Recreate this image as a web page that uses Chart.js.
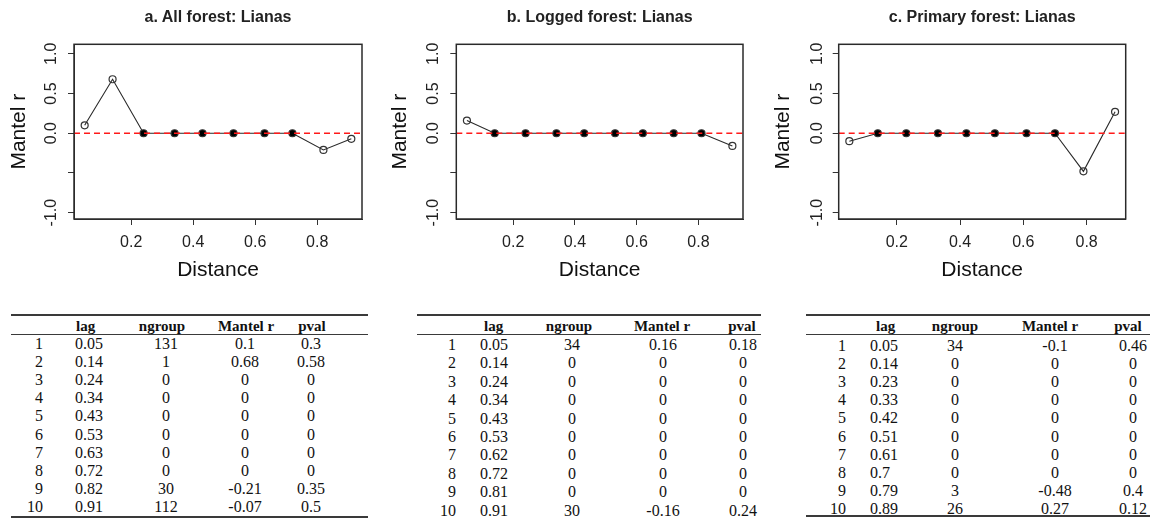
<!DOCTYPE html>
<html>
<head>
<meta charset="utf-8">
<script src="https://cdn.jsdelivr.net/npm/chart.js@4/dist/chart.umd.min.js"></script>
<style>
  body { margin: 0; width: 1152px; height: 519px; background: #fff; position: relative; overflow: hidden;
         font-family: "Liberation Sans", Arial, sans-serif; }
  canvas.plot { position: absolute; top: 0; }
  .title { position: absolute; top: 8px; font-weight: bold; font-size: 16px; line-height: 18px; color: #222;
           white-space: nowrap; transform: translateX(-50%); }
  .rule { position: absolute; background: #3a3a3a; }
  .cell { position: absolute; white-space: nowrap; font-family: "Liberation Serif", "Times New Roman", serif;
          font-size: 16px; line-height: 18px; height: 18px; color: #111; }
  .cell.h { font-weight: bold; font-size: 15px; }
</style>
</head>
<body>
<canvas class="plot" id="plotA" width="384" height="290" style="left:0px"></canvas>
<canvas class="plot" id="plotB" width="384" height="290" style="left:384px"></canvas>
<canvas class="plot" id="plotC" width="384" height="290" style="left:768px"></canvas>

<script>
/* Mantel correlograms, lianas */
const panelTitles = ['a. All forest: Lianas', 'b. Logged forest: Lianas', 'c. Primary forest: Lianas'];

const lagA    = [0.05, 0.14, 0.24, 0.34, 0.43, 0.53, 0.63, 0.72, 0.82, 0.91];
const ngroupA = [131, 1, 0, 0, 0, 0, 0, 0, 30, 112];
const mantelA = [0.1, 0.68, 0, 0, 0, 0, 0, 0, -0.21, -0.07];
const pvalA   = [0.3, 0.58, 0, 0, 0, 0, 0, 0, 0.35, 0.5];

const lagB    = [0.05, 0.14, 0.24, 0.34, 0.43, 0.53, 0.62, 0.72, 0.81, 0.91];
const ngroupB = [34, 0, 0, 0, 0, 0, 0, 0, 0, 30];
const mantelB = [0.16, 0, 0, 0, 0, 0, 0, 0, 0, -0.16];
const pvalB   = [0.18, 0, 0, 0, 0, 0, 0, 0, 0, 0.24];

const lagC    = [0.05, 0.14, 0.23, 0.33, 0.42, 0.51, 0.61, 0.7, 0.79, 0.89];
const ngroupC = [34, 0, 0, 0, 0, 0, 0, 0, 3, 26];
const mantelC = [-0.1, 0, 0, 0, 0, 0, 0, 0, -0.48, 0.27];
const pvalC   = [0.46, 0, 0, 0, 0, 0, 0, 0, 0.4, 0.12];

const xTicks = [0.2, 0.4, 0.6, 0.8];
const yTicks = [-1, -0.5, 0, 0.5, 1];
const yTickLabels = ['-1.0', '', '0.0', '0.5', '1.0'];
const tableHeaders = ['lag', 'ngroup', 'Mantel r', 'pval'];

const SANS = '"Liberation Sans", Arial, sans-serif';

// box, zero line and rotated y labels (R style)
const rStyle = {
  id: 'rStyle',
  afterDatasetsDraw(chart, args, opts) {
    const ctx = chart.ctx, a = chart.chartArea;
    const y0 = chart.scales.y.getPixelForValue(0);
    ctx.save();
    ctx.strokeStyle = '#ff1a1a';
    ctx.lineWidth = 1.6;
    ctx.setLineDash([6, 4]);
    ctx.beginPath();
    ctx.moveTo(a.left, y0);
    ctx.lineTo(a.right, y0);
    ctx.stroke();
    ctx.restore();
  },
  afterDraw(chart, args, opts) {
    const ctx = chart.ctx, a = chart.chartArea, ys = chart.scales.y;
    ctx.save();
    ctx.strokeStyle = '#2a2a2a';
    ctx.lineWidth = 1.5;
    ctx.strokeRect(a.left, a.top, a.right - a.left, a.bottom - a.top);
    ctx.fillStyle = '#222';
    ctx.font = '16px ' + SANS;
    ctx.textAlign = 'center';
    ctx.textBaseline = 'middle';
    yTicks.forEach((v, i) => {
      if (!yTickLabels[i]) return;
      ctx.save();
      ctx.translate(opts.labelX, ys.getPixelForValue(v));
      ctx.rotate(-Math.PI / 2);
      ctx.fillText(yTickLabels[i], 0, 0);
      ctx.restore();
    });
    ctx.restore();
  }
};

const panels = [
  { id: 'plotA', yw: 74,   pr: 22,   labelX: 51.5, ytPad: 6.9, lag: lagA, mantel: mantelA, pval: pvalA },
  { id: 'plotB', yw: 72.3, pr: 25,   labelX: 50,   ytPad: 4.1, lag: lagB, mantel: mantelB, pval: pvalB },
  { id: 'plotC', yw: 70.7, pr: 26.3, labelX: 49.5, ytPad: 2.9, lag: lagC, mantel: mantelC, pval: pvalC }
];

panels.forEach(p => {
  const lo = Math.min(...p.lag), hi = Math.max(...p.lag), span = hi - lo;
  new Chart(document.getElementById(p.id), {
    type: 'scatter',
    data: {
      datasets: [{
        data: p.lag.map((x, i) => ({ x: x, y: p.mantel[i] })),
        showLine: true,
        borderColor: '#2a2a2a',
        borderWidth: 1.1,
        pointRadius: 3.5,
        pointHoverRadius: 3.5,
        pointBorderWidth: 1.2,
        pointBorderColor: '#333',
        pointBackgroundColor: p.pval.map(v => v <= 0.05 ? '#000' : 'rgba(0,0,0,0)')
      }]
    },
    options: {
      responsive: false,
      animation: false,
      layout: { padding: { left: 0, right: p.pr, top: 44.3, bottom: 0 } },
      plugins: { legend: { display: false }, tooltip: { enabled: false }, rStyle: { labelX: p.labelX } },
      scales: {
        x: {
          type: 'linear',
          min: lo - 0.04 * span,
          max: hi + 0.04 * span,
          afterBuildTicks: s => { s.ticks = xTicks.map(v => ({ value: v })); },
          afterFit: s => { s.height = 71; },
          grid: { drawOnChartArea: false, tickLength: 6, color: '#333' },
          border: { color: '#333' },
          ticks: { font: { size: 16, family: SANS }, color: '#222', padding: 8.4, callback: v => v.toFixed(1) },
          title: { display: true, text: 'Distance', color: '#111', font: { size: 21, family: SANS }, padding: { top: 0, bottom: 7.4 } }
        },
        y: {
          min: -1.08,
          max: 1.12,
          afterBuildTicks: s => { s.ticks = yTicks.map(v => ({ value: v })); },
          afterFit: s => { s.width = p.yw; },
          grid: { drawOnChartArea: false, tickLength: 6, color: '#333' },
          border: { color: '#333' },
          ticks: { color: 'rgba(0,0,0,0)', callback: () => '' },
          title: { display: true, text: 'Mantel r', color: '#111', font: { size: 21, family: SANS }, padding: { top: p.ytPad, bottom: 0 } }
        }
      }
    },
    plugins: [rStyle]
  });
});

// panel titles, centred over the plot boxes
const titleCx = [218, 599.7, 982.2];
panelTitles.forEach((t, i) => {
  const d = document.createElement('div');
  d.className = 'title';
  d.style.left = titleCx[i] + 'px';
  d.textContent = t;
  document.body.appendChild(d);
});

// tables under each panel
const tables = [
  { lag: lagA, ng: ngroupA, mr: mantelA, pv: pvalA,
    x0: 11, x1: 368, num: 43, lagL: 75, lagH: 76, ngC: 166, ngH: 162, mrC: 245, mrH: 246, pvC: 311, pvH: 312,
    top: 315, hrule: 334, row1: 344, step: 18.1, bottom: 517 },
  { lag: lagB, ng: ngroupB, mr: mantelB, pv: pvalB,
    x0: 417, x1: 761, num: 456, lagL: 480, lagH: 484, ngC: 572, ngH: 569, mrC: 663, mrH: 662, pvC: 743, pvH: 742,
    top: 315, hrule: 334, row1: 345, step: 18.4, bottom: null },
  { lag: lagC, ng: ngroupC, mr: mantelC, pv: pvalC,
    x0: 806, x1: 1150, num: 846, lagL: 870, lagH: 876, ngC: 955, ngH: 955, mrC: 1055, mrH: 1050, pvC: 1133, pvH: 1128,
    top: 315, hrule: 334, row1: 346, step: 18.1, bottom: 516 }
];

function rule(x0, x1, y, h) {
  const r = document.createElement('div');
  r.className = 'rule';
  r.style.left = x0 + 'px';
  r.style.width = (x1 - x0) + 'px';
  r.style.top = (y - h / 2) + 'px';
  r.style.height = h + 'px';
  document.body.appendChild(r);
}

function cell(text, x, yc, align, bold) {
  const c = document.createElement('div');
  c.className = 'cell' + (bold ? ' h' : '');
  c.textContent = text;
  c.style.top = (yc - 9) + 'px';
  c.style.left = x + 'px';
  if (align === 'center') c.style.transform = 'translateX(-50%)';
  else if (align === 'right') c.style.transform = 'translateX(-100%)';
  document.body.appendChild(c);
}

tables.forEach(t => {
  rule(t.x0, t.x1, t.top, 2);
  rule(t.x0, t.x1, t.hrule, 1);
  if (t.bottom) rule(t.x0, t.x1, t.bottom, 2);
  const hy = (t.top + t.hrule) / 2 + 1;
  cell(tableHeaders[0], t.lagH, hy, 'left', true);
  cell(tableHeaders[1], t.ngH, hy, 'center', true);
  cell(tableHeaders[2], t.mrH, hy, 'center', true);
  cell(tableHeaders[3], t.pvH, hy, 'center', true);
  t.lag.forEach((v, i) => {
    const y = t.row1 + i * t.step;
    cell(String(i + 1), t.num, y, 'right');
    cell(String(v), t.lagL, y, 'left');
    cell(String(t.ng[i]), t.ngC, y, 'center');
    cell(String(t.mr[i]), t.mrC, y, 'center');
    cell(String(t.pv[i]), t.pvC, y, 'center');
  });
});
</script>
</body>
</html>
